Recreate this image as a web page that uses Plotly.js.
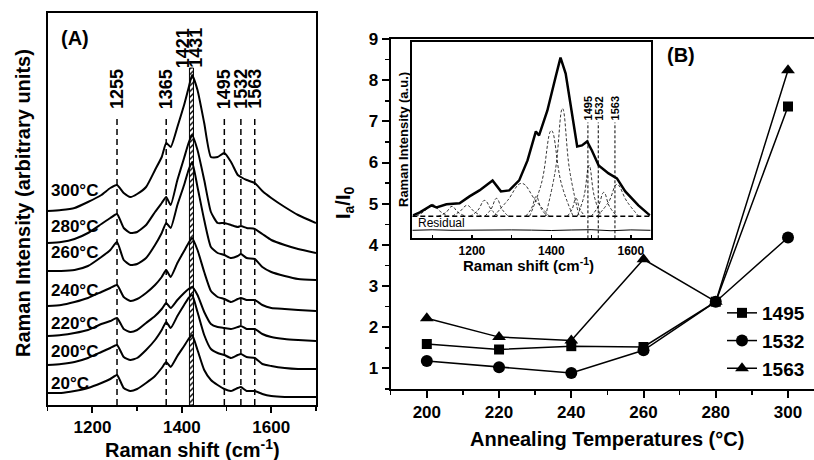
<!DOCTYPE html>
<html>
<head>
<meta charset="utf-8">
<script src="https://cdn.plot.ly/plotly-3.0.1.min.js"></script>
<style>html,body{margin:0;padding:0;background:#fff;}#chart{width:814px;height:460px;}</style>
</head>
<body>
<div id="chart"></div>
<script>
// ---------- Panel A: Raman spectra at different temperatures ----------
const ramanShift = [1100,1130,1160,1190,1220,1240,1255,1270,1285,1300,1320,1340,1355,1365,1375,1390,1405,1415,1423,1435,1450,1465,1480,1495,1510,1525,1532,1545,1563,1580,1600,1630,1660,1700];
const tempLabels = ['300°C','280°C','260°C','240°C','220°C','200°C','20°C'];
const spec300 = [194,195,197,203,210,217,220,212,208,211,218,235,248,262,258,278,300,317,330,315,282,248,248,252,243,230,228,225,222,214,207,198,190,182];
const spec280 = [162,163,166,172,181,187,191,177,172,173,180,193,202,208,200,225,247,262,270,255,225,193,182,182,180,178,179,177,176,171,165,160,156,152];
const spec260 = [134,134,135,139,148,155,163,145,140,141,147,160,172,182,177,200,220,235,243,218,185,158,152,150,147,149,151,147,146,138,133,129,126,125];
const spec240 = [99,100,103,107,113,117,120,108,104,106,112,120,128,135,128,142,154,162,167,155,133,114,108,106,103,106,107,105,105,100,97,96,95,94];
const spec220 = [69,70,72,75,81,84,87,76,73,75,82,89,96,102,97,105,112,116,118,110,93,81,78,77,76,78,79,76,76,71,68,66,65,64];
const spec200 = [40,41,43,47,53,57,60,48,45,47,55,65,75,83,77,89,100,107,110,93,70,56,52,50,47,50,51,48,47,41,39,37,36,36];
const spec20  = [12,12,14,17,22,26,30,17,14,16,22,29,37,43,38,49,59,66,70,55,35,25,20,16,14,17,18,14,14,11,9,8,8,8];
const labelLevels = [214,178,152,115,82,54,22];   // where the temperature labels sit (intensity units)
const peakLinesA = [1255,1365,1495,1532,1563];
const bandPeaks = [1421,1431];

// ---------- Panel B: Ia/I0 vs annealing temperature ----------
const annealT = [200,220,240,260,280,300];
const series1495 = [1.59,1.46,1.54,1.52,2.62,7.36];
const series1532 = [1.18,1.03,0.89,1.44,2.62,4.18];
const series1563 = [2.22,1.76,1.68,3.65,2.62,8.24];
const seriesNames = ['1495','1532','1563'];

// ---------- Inset: fitted spectrum ----------
const insetX = [1052,1069,1098,1111,1136,1169,1194,1219,1252,1273,1294,1319,1340,1361,1369,1390,1411,1423,1436,1452,1465,1477,1490,1502,1519,1544,1565,1586,1619,1648];
const insetY = [23,26,33,31,34,35,42,48,58,47,48,58,78,107,103,128,162,181,165,122,92,93,97,88,73,65,60,47,33,23];
const compX = [
  [1060,1080,1100,1120,1140],[1115,1135,1150,1165,1185],[1150,1170,1188,1205,1225],
  [1195,1215,1232,1250,1268],[1232,1248,1262,1276,1292],[1255,1290,1325,1360,1395],
  [1335,1350,1362,1374,1390],[1345,1375,1400,1425,1455],[1385,1410,1428,1446,1470],
  [1440,1452,1462,1472,1485],[1465,1482,1495,1508,1525],[1500,1518,1532,1546,1565],
  [1515,1545,1565,1590,1620]];
const compY = [
  [22,27,34,27,22],[22,26,32,26,22],[22,27,33,27,22],
  [22,28,38,28,22],[22,29,40,29,22],[22,38,55,38,22],
  [22,30,42,30,22],[22,55,108,55,22],[22,68,130,68,22],
  [22,29,40,29,22],[22,42,73,42,22],[22,32,46,32,22],
  [22,37,54,37,22]];
const baselineX = [1050,1650];
const baselineY = [22,22];
const residX = [1050,1100,1150,1200,1250,1300,1350,1400,1450,1500,1550,1600,1650];
const residY = [8,8.5,8,8.3,8,8.4,8.2,7.8,8.3,8.6,7.6,8.4,8];
const insetLineX = [1492,1518,1560];
const insetLineLabels = ['1495','1532','1563'];

const FONT = 'Arial, "Liberation Sans", Helvetica, sans-serif';
const W = 814, H = 460;
const px = v => v / W;
const py = v => 1 - v / H;

const traces = [];
const specs = [spec300, spec280, spec260, spec240, spec220, spec200, spec20];
specs.forEach(s => traces.push({
  x: ramanShift, y: s, xaxis: 'x', yaxis: 'y', mode: 'lines', showlegend: false,
  line: {color: '#000', width: 2, shape: 'spline', smoothing: 0.5}, hoverinfo: 'skip'
}));
// hatched band
traces.push({
  type: 'bar', x: [(bandPeaks[0] + bandPeaks[1]) / 2 - 4.5], y: [337], width: [9],
  xaxis: 'x', yaxis: 'y', showlegend: false,
  marker: {color: '#fff', line: {color: '#000', width: 1},
    pattern: {shape: '/', fgcolor: '#000', bgcolor: '#fff', size: 4, solidity: 0.35}}
});

// Panel B series
const sym = ['square', 'circle', 'triangle-up'];
const msz = [10, 12, 12];
[series1495, series1532, series1563].forEach((s, i) => traces.push({
  x: annealT, y: s, xaxis: 'x2', yaxis: 'y2', mode: 'lines+markers', name: seriesNames[i],
  line: {color: '#000', width: 1.5}, marker: {symbol: sym[i], size: msz[i], color: '#000'}
}));

// Inset traces
compX.forEach((cx, i) => traces.push({
  x: cx, y: compY[i], xaxis: 'x3', yaxis: 'y3', mode: 'lines', showlegend: false,
  line: {color: '#000', width: 0.8, dash: '3px,2px', shape: 'spline', smoothing: 1.2}
}));
traces.push({x: baselineX, y: baselineY, xaxis: 'x3', yaxis: 'y3', mode: 'lines', showlegend: false,
  line: {color: '#000', width: 1.5, dash: '5px,3px'}});
traces.push({x: residX, y: residY, xaxis: 'x3', yaxis: 'y3', mode: 'lines', showlegend: false,
  line: {color: '#000', width: 1}});
traces.push({x: insetX, y: insetY, xaxis: 'x3', yaxis: 'y3', mode: 'lines', showlegend: false,
  line: {color: '#000', width: 2.5}});

const shapes = [];
peakLinesA.forEach(p => shapes.push({type: 'line', xref: 'x', yref: 'y', x0: p, x1: p, y0: 0, y1: 288,
  line: {color: '#000', width: 1.5, dash: '6px,4px'}}));
insetLineX.forEach(p => shapes.push({type: 'line', xref: 'x3', yref: 'y3', x0: p, x1: p, y0: 0, y1: 116,
  line: {color: '#000', width: 1, dash: '3px,2px'}}));

const bold = (size) => ({family: FONT, size: size, color: '#000', weight: 'bold'});
const ann = (o) => Object.assign({showarrow: false, xanchor: 'center', yanchor: 'middle'}, o);
const annotations = [];
peakLinesA.forEach(p => annotations.push(ann({xref: 'x', yref: 'y', x: p, y: 316, text: String(p), textangle: -90, font: bold(18)})));
annotations.push(ann({xref: 'x', yref: 'y', x: bandPeaks[0], xshift: -8, y: 357, text: String(bandPeaks[0]), textangle: -90, font: bold(18)}));
annotations.push(ann({xref: 'x', yref: 'y', x: bandPeaks[1], y: 357, text: String(bandPeaks[1]), textangle: -90, font: bold(18)}));
tempLabels.forEach((t, i) => annotations.push(ann({xref: 'paper', yref: 'y', x: px(49), y: labelLevels[i], text: t, xanchor: 'left', font: bold(17)})));
insetLineX.forEach((p, i) => annotations.push(ann({xref: 'x3', yref: 'y3', x: p, y: 130, text: insetLineLabels[i], textangle: -90, font: bold(11)})));
annotations.push(
  ann({xref: 'paper', yref: 'paper', x: px(75), y: py(38), text: '(A)', font: bold(20)}),
  ann({xref: 'paper', yref: 'paper', x: px(681), y: py(55), text: '(B)', font: bold(20)}),
  ann({xref: 'paper', yref: 'paper', x: px(23), y: py(203), text: 'Raman Intensity (arbitrary units)', textangle: -90, font: bold(20)}),
  ann({xref: 'paper', yref: 'paper', x: px(192), y: py(448), text: 'Raman shift (cm<sup>-1</sup>)', font: bold(20)}),
  ann({xref: 'paper', yref: 'paper', x: px(607), y: py(439), text: 'Annealing Temperatures (°C)', font: bold(20)}),
  ann({xref: 'paper', yref: 'paper', x: px(344), y: py(203), text: 'I<sub>a</sub>/I<sub>0</sub>', textangle: -90, font: bold(20)}),
  ann({xref: 'paper', yref: 'paper', x: px(403), y: py(140), text: 'Raman Intensity (a.u.)', textangle: -90, font: bold(13)}),
  ann({xref: 'paper', yref: 'paper', x: px(528), y: py(264), text: 'Raman shift (cm<sup>-1</sup>)', font: bold(15)}),
  ann({xref: 'paper', yref: 'paper', x: px(416), y: py(223), text: 'Residual', xanchor: 'left', font: {family: FONT, size: 12, color: '#000'}})
);

const layout = {
  width: W, height: H, margin: {l: 0, r: 0, t: 0, b: 0},
  paper_bgcolor: '#fff', plot_bgcolor: 'rgba(0,0,0,0)',
  font: {family: FONT, color: '#000'},
  barmode: 'overlay',
  xaxis: {domain: [px(47.7), px(316)], anchor: 'y', range: [1100, 1700], tick0: 1200, dtick: 200,
    ticks: 'outside', ticklen: 6, tickwidth: 2, tickcolor: '#000',
    minor: {tick0: 1100, dtick: 100, ticks: 'outside', ticklen: 4, tickwidth: 1.5, tickcolor: '#000'},
    showline: true, linewidth: 2, linecolor: '#000', mirror: true, showgrid: false, zeroline: false,
    tickfont: bold(17)},
  yaxis: {domain: [py(405), py(13)], anchor: 'x', range: [0, 392], showticklabels: false, ticks: '',
    showline: true, linewidth: 2, linecolor: '#000', mirror: true, showgrid: false, zeroline: false},
  xaxis2: {domain: [px(390.7), 1], anchor: 'y2', range: [190, 307.2], tick0: 200, dtick: 20,
    ticks: 'outside', ticklen: 7, tickwidth: 2, tickcolor: '#000',
    minor: {tick0: 190, dtick: 10, ticks: 'outside', ticklen: 4, tickwidth: 1.5, tickcolor: '#000'},
    showline: true, linewidth: 2, linecolor: '#000', mirror: true, showgrid: false, zeroline: false,
    tickfont: bold(17)},
  yaxis2: {domain: [py(389), py(39)], anchor: 'x2', range: [0.5, 9], tick0: 1, dtick: 1,
    ticks: 'outside', ticklen: 7, tickwidth: 2, tickcolor: '#000',
    minor: {tick0: 0.5, dtick: 0.5, ticks: 'outside', ticklen: 4, tickwidth: 1.5, tickcolor: '#000'},
    showline: true, linewidth: 2, linecolor: '#000', mirror: false, showgrid: false, zeroline: false,
    tickfont: bold(17)},
  xaxis3: {domain: [px(412.3), px(650.7)], anchor: 'y3', range: [1050, 1650], tick0: 1200, dtick: 200,
    ticks: 'inside', ticklen: 3, tickwidth: 1.5, tickcolor: '#000',
    minor: {tick0: 1100, dtick: 100, ticks: 'inside', ticklen: 3, tickwidth: 1, tickcolor: '#000'},
    showline: true, linewidth: 2, linecolor: '#000', mirror: true, showgrid: false, zeroline: false,
    tickfont: bold(12)},
  yaxis3: {domain: [py(238.3), py(42)], anchor: 'x3', range: [0, 196.6], showticklabels: false, ticks: '',
    showline: true, linewidth: 2, linecolor: '#000', mirror: true, showgrid: false, zeroline: false},
  showlegend: true,
  legend: {x: px(722), y: py(294), xanchor: 'left', yanchor: 'top', bgcolor: 'rgba(0,0,0,0)',
    font: bold(19), tracegroupgap: 0, itemsizing: 'trace'},
  shapes: shapes,
  annotations: annotations
};

Plotly.newPlot('chart', traces, layout, {staticPlot: true, displayModeBar: false});
</script>
</body>
</html>
